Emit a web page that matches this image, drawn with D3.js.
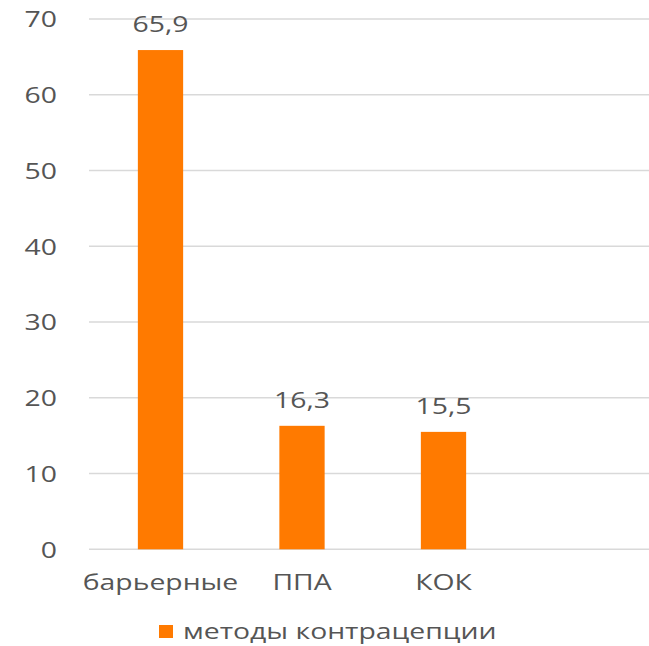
<!DOCTYPE html>
<html><head><meta charset="utf-8">
<script src="https://cdn.jsdelivr.net/npm/d3@7"></script>
<style>body{margin:0;background:#fff}svg{display:block}text{font-family:"Open Sans",sans-serif;fill:#555555}</style>
</head><body>
<svg id="c" width="649" height="646"></svg>
<script>
const categories = ["барьерные", "ППА", "КОК"];
const values = [65.9, 16.3, 15.5];
const valueLabels = ["65,9", "16,3", "15,5"];
const yTicks = [0, 10, 20, 30, 40, 50, 60, 70];
const seriesName = "методы контрацепции";

const svg = d3.select("#c");
const SX = 1.35, FS = 21;
const x = d3.scaleBand().domain([...categories, ""]).range([89.75, 655.75]).paddingInner(0.68).paddingOuter(0.34);
const y = d3.scaleLinear().domain([0, 70]).range([549.3, 19]);

function stretchText(g, tx, ty, str, anchor, size) {
  return g.append("g").attr("transform", `translate(${tx},${ty}) scale(${SX},1)`)
    .append("text").attr("text-anchor", anchor).attr("dominant-baseline", "central")
    .attr("font-size", size || FS).text(str);
}

// grid
svg.append("g").selectAll("line").data(yTicks).join("line")
  .attr("x1", 89).attr("x2", 649).attr("y1", d => y(d)).attr("y2", d => y(d))
  .attr("stroke", "#d9d9d9").attr("stroke-width", 1.5);

// y labels
const yl = svg.append("g");
yTicks.forEach(t => stretchText(yl, 57, y(t), String(t), "end"));

// bars
svg.append("g").selectAll("rect").data(values).join("rect")
  .attr("x", (d, i) => x(categories[i])).attr("width", x.bandwidth())
  .attr("y", d => y(d)).attr("height", d => y(0) - y(d)).attr("fill", "#ff7a00");

// value labels
const vl = svg.append("g");
values.forEach((v, i) => stretchText(vl, x(categories[i]) + x.bandwidth() / 2, y(v) - 26, valueLabels[i], "middle"));

// category labels
const cl = svg.append("g");
categories.forEach(c => stretchText(cl, x(c) + x.bandwidth() / 2, 582, c, "middle"));

// legend
svg.append("rect").attr("x", 159).attr("y", 625).attr("width", 14).attr("height", 13).attr("fill", "#ff7a00");
stretchText(svg, 183, 631, seriesName, "start");
</script>
</body></html>
